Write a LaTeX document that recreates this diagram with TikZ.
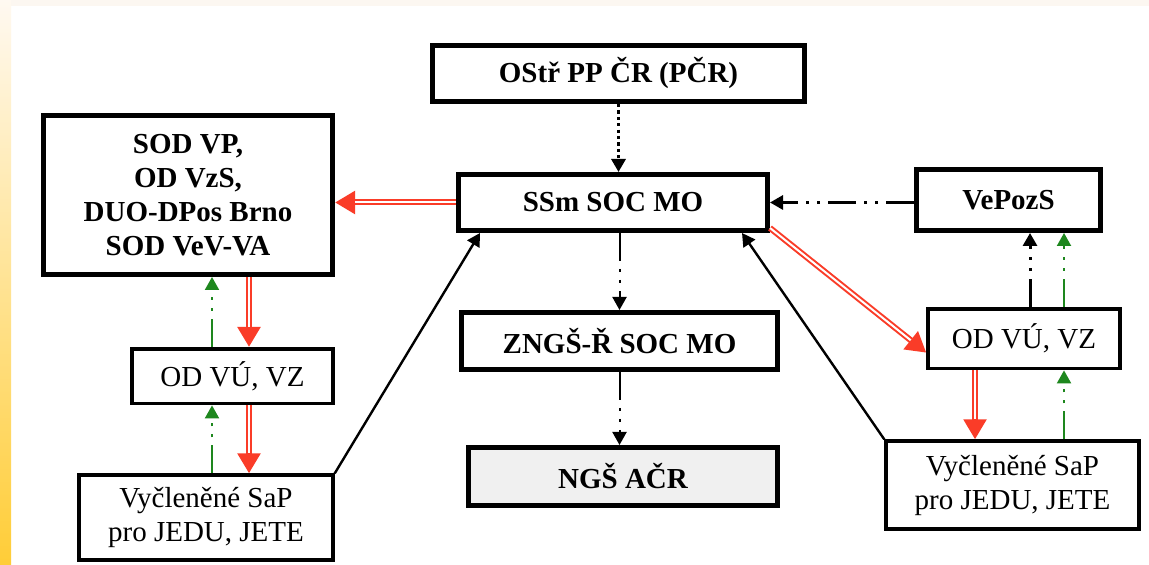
\documentclass[tikz,border=0pt]{standalone}
\usepackage{fontspec}
\setmainfont{Liberation Serif}
\usepackage{tikz}
\usetikzlibrary{positioning,arrows.meta}
\definecolor{redline}{RGB}{250,60,40}
\definecolor{greenline}{RGB}{30,135,30}
\definecolor{stripTop}{RGB}{255,249,241}
\definecolor{stripMid}{RGB}{253,234,192}
\definecolor{stripBot}{RGB}{255,205,55}
\definecolor{paper}{RGB}{252,247,241}

\begin{document}
\begin{tikzpicture}[x=0.5pt,y=-0.5pt]
\tikzset{boxthin/.style={draw,fill=white,line width=1.9pt,align=center,inner sep=2pt,
  font=\fontsize{14.5}{17}\selectfont}}
\tikzset{boxbold/.style={boxthin,line width=2.3pt,font=\fontsize{14.5}{17}\selectfont\bfseries}}
\tikzset{arr/.style={draw,-{Triangle[length=6.5pt,width=7pt]}}}
\tikzset{redarr/.style={draw=redline,line width=3pt,-{Triangle[length=10pt,width=11pt]},
  postaction={draw=white,line width=1pt,-,shorten >=10pt}}}
\tikzset{ddot/.style={dash pattern=on 14pt off 4pt on 1.5pt off 4pt on 1.5pt off 4pt}}
	% page
	\useasboundingbox (0,0) rectangle (1149,565);
	\fill[white] (0,0) rectangle (1149,565);
	\fill[paper] (0,0) rectangle (1149,6);
	\shade[top color=stripTop,middle color=stripMid,bottom color=stripBot] (0,0) rectangle (11,565);
	% middle column
	\node[boxbold,minimum width=154.7pt,minimum height=28.2pt] (ssm) at (613,202.5) {SSm SOC MO};
	\node[boxbold,minimum width=186.2pt,minimum height=28.2pt,above=34pt of ssm,xshift=2.75pt] (ostr) {OStř PP ČR (PČR)};
		\path[arr,line width=1.6pt,dash pattern=on 1.6pt off 1.6pt] (ostr.south) -- (ostr.south |- ssm.north);
	\node[boxbold,minimum width=158.2pt,minimum height=28.7pt,below=38.5pt of ssm,xshift=3.25pt] (zngs) {ZNGŠ-Ř SOC MO};
		\path[arr,line width=1pt,ddot] (zngs.north |- ssm.south) -- (zngs.north);
	\node[boxbold,fill=black!6,minimum width=154.7pt,minimum height=29.2pt,below=36.5pt of zngs,xshift=1.75pt] (ngs) {NGŠ AČR};
		\path[arr,line width=1pt,ddot] (zngs.south) -- (zngs.south |- ngs.north);
	% left column
	\node[boxbold,minimum width=144.7pt,minimum height=79.7pt,left=60.5pt of ssm,yshift=3.75pt] (sod) {SOD VP,\\OD VzS,\\DUO-DPos Brno\\SOD VeV-VA};
		\path[redarr] (ssm.west) -- (ssm.west -| sod.east);
	\node[boxthin,minimum width=100.3pt,minimum height=27.3pt,below=35pt of sod,xshift=22.25pt] (odl) {OD VÚ, VZ};
	\node[boxthin,minimum width=126.8pt,minimum height=42.3pt,below=34pt of odl,xshift=-13.25pt] (vyl) {Vyčleněné SaP\\pro JEDU, JETE};
	\coordinate (l1) at ([xshift=8.25pt]odl.north);
	\coordinate (l2) at ([xshift=-10.25pt]odl.north);
	\coordinate (l3) at ([xshift=8.25pt]odl.south);
	\coordinate (l4) at ([xshift=-10.25pt]odl.south);
		\path[redarr] (l1 |- sod.south) -- (l1);
		\path[arr,greenline,line width=1pt,ddot] (l2) -- (l2 |- sod.south);
		\path[redarr] (l3) -- (l3 |- vyl.north);
		\path[arr,greenline,line width=1pt,ddot] (l4 |- vyl.north) -- (l4);
		\path[arr,line width=1.2pt] (vyl.north east) -- ([xshift=12pt]ssm.south west);
	% right column
	\node[boxbold,minimum width=92.2pt,minimum height=30.7pt,right=72pt of ssm,yshift=1.25pt] (vepozs) {VePozS};
		\path[arr,line width=1.5pt,ddot] (vepozs.west |- ssm.east) -- (ssm.east);
	\node[boxthin,minimum width=95.8pt,minimum height=29.8pt,below=37pt of vepozs,xshift=7.75pt] (odr) {OD VÚ, VZ};
		\path[redarr] ([yshift=2.5pt]ssm.south east) -- ([yshift=-7pt]odr.west);
	\node[boxthin,minimum width=126.3pt,minimum height=43.8pt,below=34.5pt of odr,xshift=-5.75pt] (vyr) {Vyčleněné SaP\\pro JEDU, JETE};
	\coordinate (r1) at ([xshift=3pt]odr.north);
	\coordinate (r2) at ([xshift=20pt]odr.north);
	\coordinate (r3) at ([xshift=-24.5pt]odr.south);
	\coordinate (r4) at ([xshift=20pt]odr.south);
		\path[arr,line width=1.5pt,ddot] (r1) -- (r1 |- vepozs.south);
		\path[arr,greenline,line width=1pt,ddot] (r2) -- (r2 |- vepozs.south);
		\path[redarr] (r3) -- (r3 |- vyr.north);
		\path[arr,greenline,line width=1pt,ddot] (r4 |- vyr.north) -- (r4);
		\path[arr,line width=1.2pt] (vyr.north west) -- ([xshift=-14pt]ssm.south east);
\end{tikzpicture}
\end{document}
